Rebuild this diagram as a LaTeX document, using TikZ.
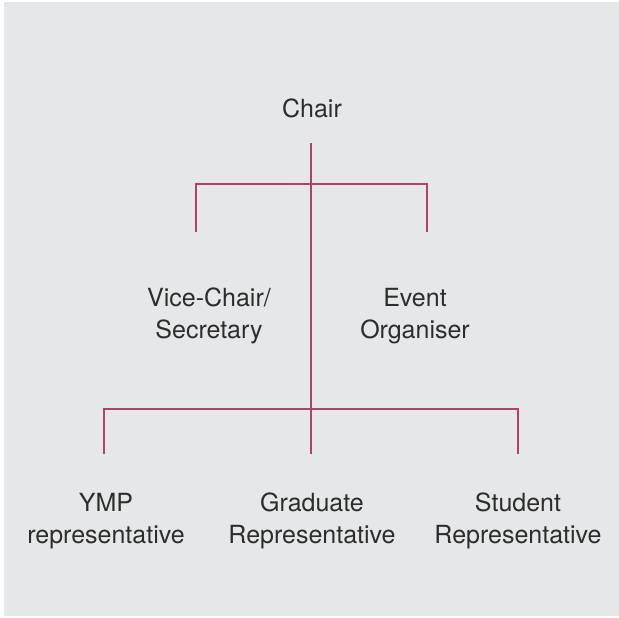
\documentclass[tikz,border=0pt]{standalone}
\usepackage{fontspec}
\setmainfont{TeX Gyre Heros}
\definecolor{panelgray}{RGB}{230,231,232}
\definecolor{linkred}{RGB}{176,66,106}
\definecolor{textgray}{RGB}{45,45,45}
\tikzset{
  role/.style={align=center, text=textgray, inner sep=0pt,
    font=\fontsize{25}{32}\selectfont},
  link/.style={draw=linkred, line width=2.4pt}
}
\begin{document}
\begin{tikzpicture}[x=1pt,y=-1pt]
  \useasboundingbox (0,0) rectangle (619,618);
  \fill[panelgray] (4,2) rectangle (619,616);
  % roles
  \node[role] (chair) at (312,108) {Chair};
  \node[role] (vice) at (209,316) {Vice-Chair/\\Secretary};
  \node[role] (event) at (415,316) {Event\\Organiser};
  \node[role] (ymp) at (106,521) {YMP\\representative};
  \node[role] (grad) at (312,521) {Graduate\\Representative};
  \node[role] (student) at (518,521) {Student\\Representative};
  % line ends
  \coordinate (stem) at (311,143);
  \coordinate (upbar) at (311,184);
  \coordinate (viceend) at (196,232);
  \coordinate (eventend) at (427,232);
  \coordinate (lowbar) at (311,409);
  \coordinate (ympend) at (104,454);
  \coordinate (gradend) at (311,454);
  \coordinate (studentend) at (518,454);
  % links
  \draw[link] (stem) -- (gradend);
  \draw[link] (viceend) |- (upbar) -| (eventend);
  \draw[link] (ympend) |- (lowbar) -| (studentend);
\end{tikzpicture}
\end{document}
